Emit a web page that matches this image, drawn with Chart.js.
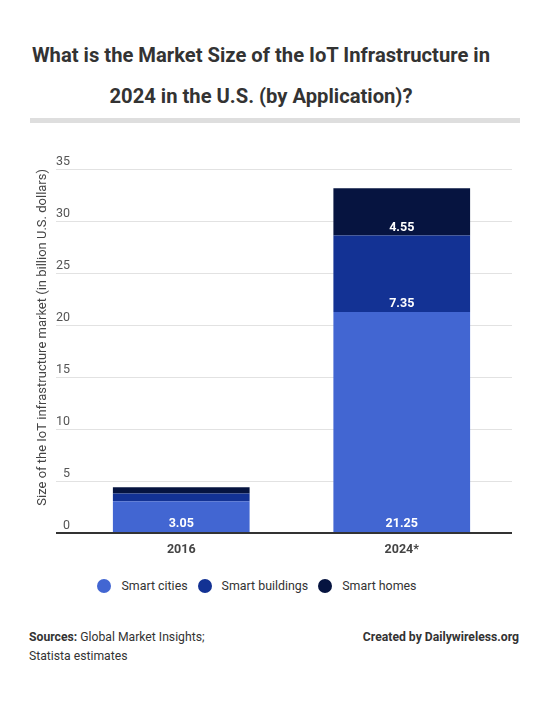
<!DOCTYPE html>
<html>
<head>
<meta charset="utf-8">
<script src="https://cdn.jsdelivr.net/npm/chart.js@4/dist/chart.umd.min.js"></script>
<style>
    body { margin: 0; background: #fff; font-family: Roboto, sans-serif; }
    #page { position: relative; width: 550px; height: 727px; }
    #title {
        position: absolute; top: 35px; left: 0; width: 522px;
        text-align: center; font-weight: bold; font-size: 20.2px; line-height: 41px; color: #333;
    }
    #rule { position: absolute; top: 118px; left: 30px; width: 490px; height: 5px; background: #dedede; }
    #wrap { position: absolute; top: 140px; left: 0; width: 550px; height: 425px; }
    #legend {
        position: absolute; top: 578px; left: 0; width: 524px;
        display: flex; justify-content: center; font-size: 12.4px; color: #333; line-height: 16px;
    }
    #legend span { display: flex; align-items: center; margin-right: 10px; }
    #legend i { width: 14px; height: 14px; border-radius: 50%; margin-right: 10px; }
    .foot { position: absolute; font-size: 12.2px; color: #333; line-height: 19px; }
</style>
</head>
<body>
<div id="page">
    <div id="title">What is the Market Size of the IoT Infrastructure in<br>2024 in the U.S. (by Application)?</div>
    <div id="rule"></div>
    <div id="wrap"><canvas id="chart"></canvas></div>
    <div id="legend"></div>
    <div class="foot" style="left:29px; top:628px;"><b>Sources:</b> Global Market Insights;<br>Statista estimates</div>
    <div class="foot" style="right:31px; top:628px;"><b>Created by Dailywireless.org</b></div>
</div>
<script>
    let years = ['2016', '2024*']
    let seriesNames = ['Smart cities', 'Smart buildings', 'Smart homes']
    let smartCities = [3.05, 21.25]
    let smartBuildings = [0.75, 7.35]
    let smartHomes = [0.6, 4.55]
    let yTicks = [0, 5, 10, 15, 20, 25, 30, 35]
    let colors = ['#4266d2', '#133294', '#061440']

    // white value labels, sitting just above the bottom of each segment
    let segmentLabels = {
        id: 'segmentLabels',
        afterDatasetsDraw(chart) {
            let ctx = chart.ctx
            ctx.save()
            ctx.fillStyle = '#fff'
            ctx.font = 'bold 12.5px Roboto'
            ctx.textAlign = 'center'
            ctx.textBaseline = 'middle'
            chart.data.datasets.forEach((ds, i) => {
                chart.getDatasetMeta(i).data.forEach((bar, j) => {
                    let v = ds.data[j]
                    if (v < 2) return
                    ctx.fillText(v.toFixed(2), bar.x, bar.base - 8)
                })
            })
            ctx.restore()
        },
    }

    let chart = new Chart(document.getElementById('chart'), {
        type: 'bar',
        data: {
            labels: years,
            datasets: [smartCities, smartBuildings, smartHomes].map((data, i) => ({
                label: seriesNames[i],
                data,
                backgroundColor: colors[i],
            })),
        },
        options: {
            responsive: true,
            maintainAspectRatio: false,
            animation: false,
            barPercentage: 0.62,
            categoryPercentage: 1,
            layout: {padding: {left: 35, right: 38, top: 29, bottom: 7}},
            plugins: {
                tooltip: {enabled: false},
                legend: {display: false},
            },
            scales: {
                x: {
                    stacked: true,
                    grid: {display: false},
                    border: {display: false},
                    ticks: {color: '#444', font: {family: 'Roboto', size: 12.5, weight: 'bold'}, padding: 1},
                },
                y: {
                    stacked: true,
                    min: 0,
                    max: 35,
                    afterBuildTicks: (axis) => { axis.ticks = yTicks.map(v => ({value: v})) },
                    afterFit: (axis) => { axis.width = 36 },
                    grid: {
                        tickLength: 15,
                        // the zero line doubles as the dark x axis line
                        color: (c) => c.tick && c.tick.value === 0 ? '#333' : '#e2e2e2',
                        lineWidth: (c) => c.tick && c.tick.value === 0 ? 2 : 1,
                    },
                    border: {display: false},
                    ticks: {
                        padding: -14,
                        labelOffset: -7,
                        color: '#555',
                        font: {family: 'Roboto', size: 12.5},
                    },
                    title: {
                        display: true,
                        align: 'end',
                        text: 'Size of the IoT infrastructure market (in billion U.S. dollars)',
                        color: '#444',
                        font: {family: 'Roboto', size: 13},
                        padding: {top: 0, bottom: 5},
                    },
                },
            },
        },
        plugins: [segmentLabels],
    })

    // legend as html, built from the same names and colours
    document.getElementById('legend').innerHTML = seriesNames
        .map((name, i) => `<span><i style="background:${colors[i]}"></i>${name}</span>`)
        .join('')
</script>
</body>
</html>
